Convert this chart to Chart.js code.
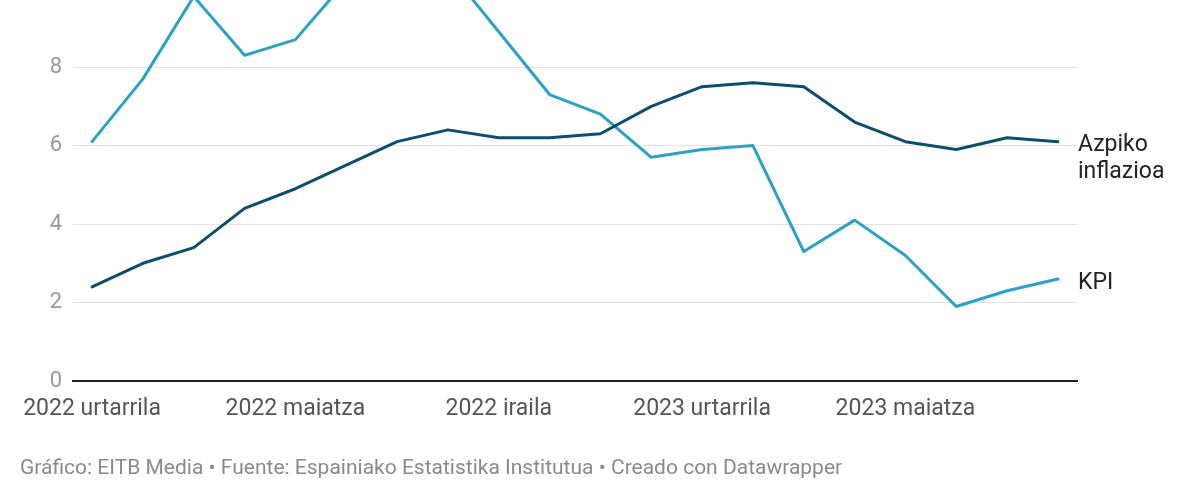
<!DOCTYPE html>
<html>
<head>
<meta charset="utf-8">
<script src="https://cdn.jsdelivr.net/npm/chart.js@4/dist/chart.umd.min.js"></script>
<style>
  html, body { margin: 0; padding: 0; background: #fff; }
  .chart-container { position: relative; width: 1200px; height: 500px; }
</style>
</head>
<body>
<div class="chart-container">
  <canvas id="chart"></canvas>
</div>
<script>
// months Jan 2022 .. Aug 2023
const months = [
  '2022-01', '2022-02', '2022-03', '2022-04', '2022-05', '2022-06', '2022-07',
  '2022-08', '2022-09', '2022-10', '2022-11', '2022-12', '2023-01', '2023-02',
  '2023-03', '2023-04', '2023-05', '2023-06', '2023-07', '2023-08'
]
const kpi = [6.1, 7.7, 9.8, 8.3, 8.7, 10.2, 10.8, 10.5, 8.9, 7.3, 6.8, 5.7, 5.9, 6.0, 3.3, 4.1, 3.2, 1.9, 2.3, 2.6]
const azpiko = [2.4, 3.0, 3.4, 4.4, 4.9, 5.5, 6.1, 6.4, 6.2, 6.2, 6.3, 7.0, 7.5, 7.6, 7.5, 6.6, 6.1, 5.9, 6.2, 6.1]
const xTickIndex = [0, 4, 8, 12, 16]
const xTickLabels = ['2022 urtarrila', '2022 maiatza', '2022 iraila', '2023 urtarrila', '2023 maiatza']
const yTicks = [0, 2, 4, 6, 8]
const seriesLabels = [['Azpiko', 'inflazioa'], ['KPI']]
const footer = 'Gráfico: EITB Media • Fuente: Espainiako Estatistika Institutua • Creado con Datawrapper'

const FONT = 'Roboto, "Noto Sans", sans-serif'
const KPI_COLOR = '#2ba2c5'
const CORE_COLOR = '#0e4e6d'

const toPoints = arr => arr.map((v, i) => ({ x: i, y: v }))

// line-end labels and source note
const labelsPlugin = {
  id: 'endLabels',
  afterDatasetsDraw(chart) {
    const { ctx, scales: { y } } = chart
    ctx.save()
    ctx.font = '23px ' + FONT
    ctx.fillStyle = '#222'
    ctx.textAlign = 'left'
    ctx.textBaseline = 'middle'
    const last = months.length - 1
    const series = [azpiko, kpi]
    series.forEach((arr, i) => {
      const py = y.getPixelForValue(arr[last]) + 4
      seriesLabels[i].forEach((line, j) => {
        ctx.fillText(line, chart.chartArea.right + 1, py + j * 27)
      })
    })
    ctx.font = '21px ' + FONT
    ctx.fillStyle = '#8a8a8a'
    ctx.fillText(footer, 20, 469)
    ctx.restore()
  }
}

const chartConfig = {
  type: 'line',
  data: {
    datasets: [
      {
        label: 'KPI',
        data: toPoints(kpi),
        borderColor: KPI_COLOR,
        borderWidth: 3,
        order: 2
      },
      {
        label: 'Azpiko inflazioa',
        data: toPoints(azpiko),
        borderColor: CORE_COLOR,
        borderWidth: 3,
        order: 1
      }
    ]
  },
  options: {
    responsive: true,
    maintainAspectRatio: false,
    animation: false,
    devicePixelRatio: 1,
    plugins: {
      legend: { display: false },
      tooltip: { enabled: false }
    },
    layout: {
      padding: { top: 0, left: 0, right: 123, bottom: 69 }
    },
    elements: {
      point: { radius: 0 },
      line: { tension: 0, borderJoinStyle: 'round', borderCapStyle: 'round' }
    },
    scales: {
      x: {
        type: 'linear',
        min: -0.375,
        max: 19.375,
        afterBuildTicks: axis => { axis.ticks = xTickIndex.map(v => ({ value: v })) },
        afterFit: axis => {
          axis.height = 50
          axis.paddingLeft = 0
          axis.paddingRight = 0
        },
        grid: { display: false, drawTicks: false },
        border: { display: true, color: '#222', width: 2 },
        ticks: {
          autoSkip: false,
          maxRotation: 0,
          padding: 14,
          color: '#555',
          font: { family: FONT, size: 23 },
          callback: v => xTickLabels[xTickIndex.indexOf(v)]
        }
      },
      y: {
        min: 0,
        max: 9.71,
        afterBuildTicks: axis => { axis.ticks = yTicks.map(v => ({ value: v })) },
        afterFit: axis => {
          axis.width = 73
          axis.paddingTop = 0
          axis.paddingBottom = 0
        },
        grid: { color: '#e2e2e2', lineWidth: 1, drawTicks: false },
        border: { display: false },
        ticks: {
          padding: 11,
          color: '#999',
          font: { family: FONT, size: 22 }
        }
      }
    }
  },
  plugins: [labelsPlugin]
}

new Chart(document.getElementById('chart'), chartConfig)
</script>
</body>
</html>
